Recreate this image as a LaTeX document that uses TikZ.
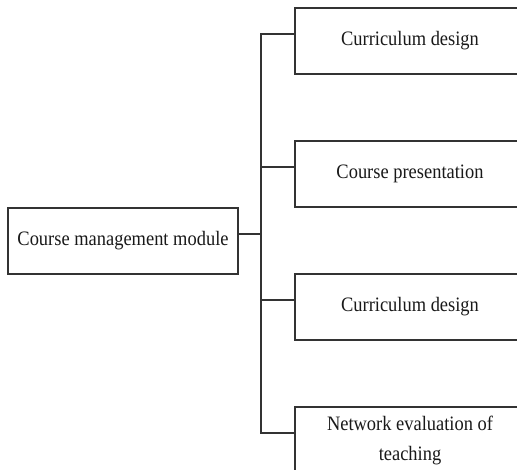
\documentclass[tikz,border=0pt]{standalone}
\usepackage{fontspec}
\setmainfont[FakeStretch=0.9]{Liberation Serif}
\definecolor{linegray}{HTML}{333333}
\tikzset{
  modbox/.style={draw=linegray, line width=1.5pt, minimum width=230pt, minimum height=66pt,
    inner sep=0pt, align=center, text=black!90, font=\fontsize{20.5}{30}\selectfont},
  link/.style={draw=linegray, line width=1.5pt}
}
\begin{document}
\begin{tikzpicture}[x=1pt,y=-1pt]
\useasboundingbox (0,0) rectangle (517,470);
% main module
\node[modbox] (m) at (123,241) {Course management module};
% sub modules
\node[modbox] (d1) at (410,41) {Curriculum design};
\node[modbox] (d2) at (410,174) {Course presentation};
\node[modbox] (d3) at (410,307) {Curriculum design};
\node[modbox] (d4) at (410,440) {Network evaluation of\\teaching};
% tree lines
\coordinate (j) at (261,234);
\draw[link] ([yshift=7pt]m.east) -- (j);
\draw[link] ([yshift=7pt]d1.west) -| (j) |- ([yshift=7pt]d4.west);
\draw[link] ([yshift=7pt]d2.west) -| (j);
\draw[link] ([yshift=7pt]d3.west) -| (j);
\end{tikzpicture}
\end{document}
